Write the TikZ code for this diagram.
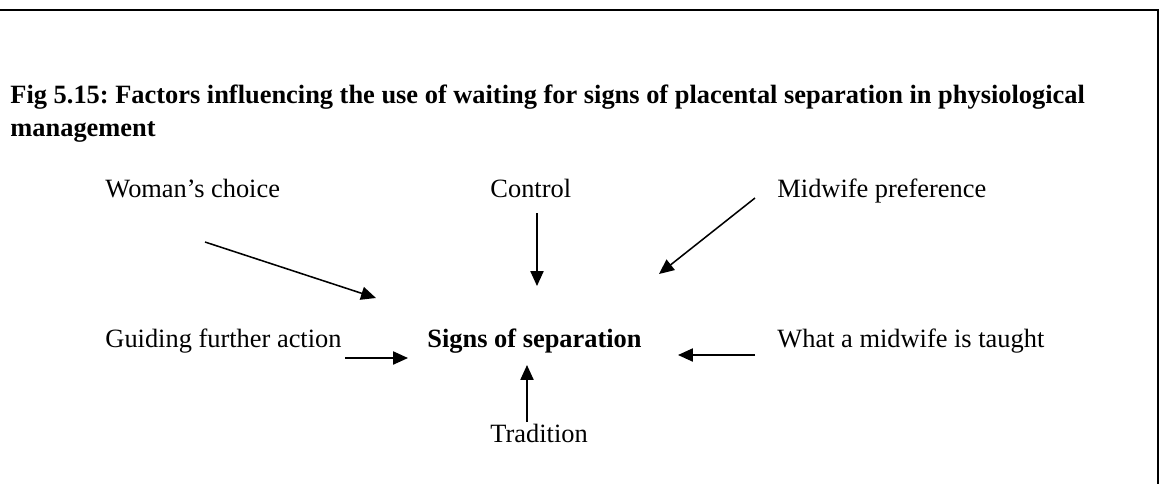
\documentclass[tikz,border=0pt]{standalone}
\usepackage{fontspec}
\setmainfont{Liberation Serif}
\usetikzlibrary{arrows.meta}
\frenchspacing

\begin{document}
\begin{tikzpicture}
  [x=0.4545pt,y=-0.4545pt,
   every node/.style={inner sep=0pt,anchor=base west,font=\fontsize{12}{14.5}\selectfont},
   influence/.style={-{Triangle[length=6.8pt,width=6pt]},line width=0.7pt}]

  \useasboundingbox (0,0) rectangle (1159,484);
  % frame
  \draw[line width=0.9pt] (0,10) -- (1158,10) -- (1158,484);

  \node[font=\bfseries\fontsize{12}{14.5}\selectfont] (title1) at (10,103) {Fig 5.15: Factors influencing the use of waiting for signs of placental separation in physiological};
  \node[font=\bfseries\fontsize{12}{14.5}\selectfont] (title2) at (10,136) {management};

  \node (woman) at (105,197) {Woman’s choice};
  \node (control) at (490,197) {Control};
  \node (midwife) at (777,197) {Midwife preference};
  \node (guiding) at (105,347) {Guiding further action};
  \node[font=\bfseries\fontsize{12}{14.5}\selectfont] (signs) at (427,347) {Signs of separation};
  \node (taught) at (777,347) {What a midwife is taught};
  \node (tradition) at (490,442) {Tradition};

  \coordinate (w1) at (205,242);
  \coordinate (w2) at (376,298);
  \coordinate (c1) at (537,213);
  \coordinate (c2) at (537,286);
  \coordinate (m1) at (755,198);
  \coordinate (m2) at (659,274);
  \coordinate (g1) at (345,358);
  \coordinate (g2) at (408,358);
  \coordinate (t1) at (755,355);
  \coordinate (t2) at (678,355);
  \coordinate (r1) at (527,422);
  \coordinate (r2) at (527,365);
  \foreach \from/\to in {w1/w2,c1/c2,m1/m2,g1/g2,t1/t2,r1/r2}
    \draw[influence] (\from) -- (\to);
\end{tikzpicture}
\end{document}
